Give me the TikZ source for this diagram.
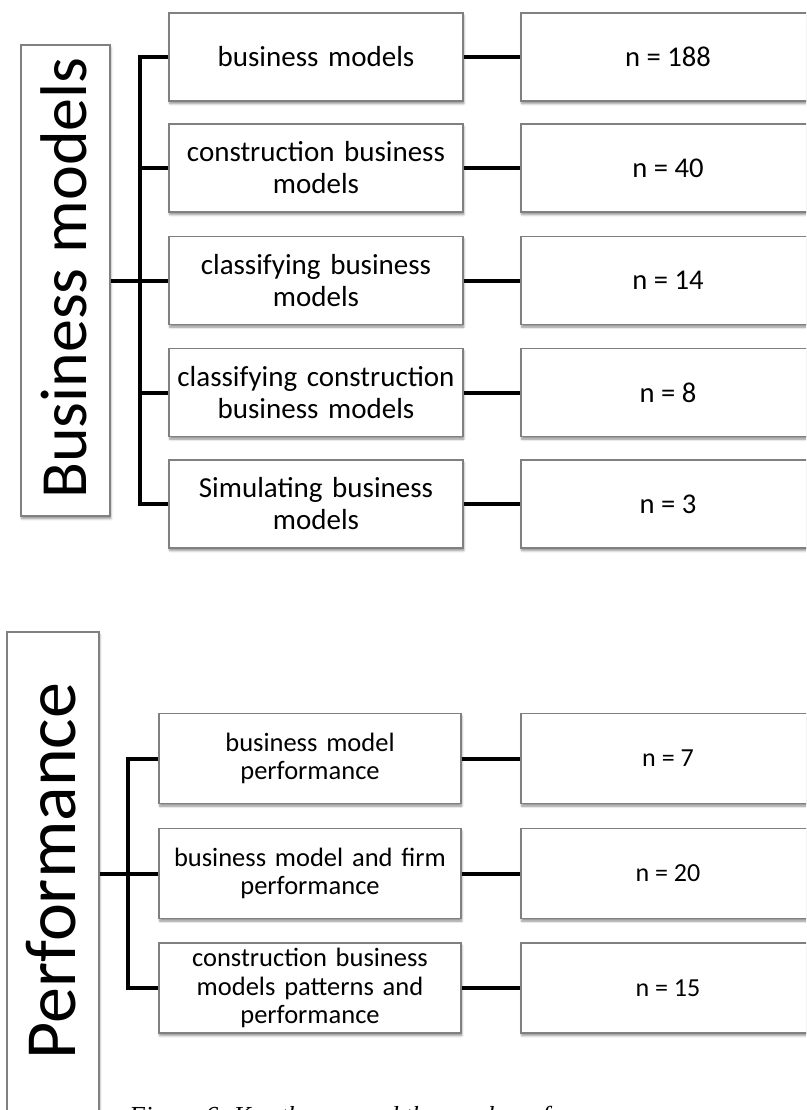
\documentclass[tikz,border=0pt]{standalone}
\usepackage{fontspec}
\setmainfont{Carlito}
\newfontfamily\capfont{Liberation Serif}
\usetikzlibrary{shadows,shadows.blur}

\tikzset{
  box/.style={draw=black!50, line width=1.1pt, fill=white, inner sep=2pt,
    blur shadow={shadow xshift=0.8pt, shadow yshift=-2.6pt, shadow blur radius=2.2pt,
      shadow blur steps=6, shadow opacity=45}},
  topic/.style={box, minimum width=294pt, minimum height=88pt, align=center,
    text width=286pt, font=\fontsize{29}{32}\selectfont},
  ptopic/.style={box, minimum width=302pt, minimum height=90pt, align=center,
    text width=294pt, font=\fontsize{26.5}{28.5}\selectfont},
  count/.style={box, minimum width=294pt, minimum height=88pt,
    font=\fontsize{28.6}{32}\selectfont},
  pcount/.style={box, minimum width=294pt, minimum height=90pt,
    font=\fontsize{26}{28.5}\selectfont},
  labelbox/.style={box},
  bigtext/.style={rotate=90, anchor=base, inner sep=0pt},
  conn/.style={line width=4pt, black, line join=miter},
  captext/.style={anchor=base west, inner sep=0pt,
    font=\capfont\itshape\fontsize{26}{30}\selectfont},
}

\begin{document}
\begin{tikzpicture}[x=1pt, y=-1pt]
  \useasboundingbox (0,0) rectangle (806,1110);
  \clip (0,0) rectangle (806,1110);

  % ---------- Business models ----------
  \node[labelbox, minimum width=89pt, minimum height=471pt] (bm) at (65.5,280.5) {};
  \node[bigtext, font=\fontsize{66}{70}\selectfont] (bmtext) at (86,278) {Business models};

  \node[topic] (m1) at (316,57)    {business models};
  \node[topic] (m2) at (316,168)   {construction business\\models};
  \node[topic] (m3) at (316,280.5) {classifying business\\models};
  \node[topic] (m4) at (316,392.5) {classifying construction\\business models};
  \node[topic] (m5) at (316,504)   {Simulating business\\models};

  \node[count] (c1) at (668,57)    {n = 188};
  \node[count] (c2) at (668,168)   {n = 40};
  \node[count] (c3) at (668,280.5) {n = 14};
  \node[count] (c4) at (668,392.5) {n = 8};
  \node[count] (c5) at (668,504)   {n = 3};

  \coordinate (bus) at (140,0);
  \draw[conn] (bm.east) -- (bm.east -| bus);
  \draw[conn] (m1.west) -- (m1.west -| bus) -- (m5.west -| bus) -- (m5.west);
  \foreach \i in {2,3,4} {
    \draw[conn] (m\i.west -| bus) -- (m\i.west);
  }
  \foreach \i in {1,...,5} {
    \draw[conn] (m\i.east) -- (c\i.west);
  }

  % ---------- Performance ----------
  \node[labelbox, minimum width=92pt, minimum height=500pt] (pf) at (53,882) {};
  \node[bigtext, font=\fontsize{72}{76}\selectfont] (pftext) at (75,871) {Performance};

  \node[ptopic] (p1) at (310,758.5) {business model\\performance};
  \node[ptopic] (p2) at (310,873.5) {business model and firm\\performance};
  \node[ptopic] (p3) at (310,988)   {construction business\\models patterns and\\performance};

  \node[pcount] (q1) at (668,758.5) {n = 7};
  \node[pcount] (q2) at (668,873.5) {n = 20};
  \node[pcount] (q3) at (668,988)   {n = 15};

  \coordinate (pbus) at (128,0);
  \draw[conn] (pf.east |- p2.west) -- (p2.west -| pbus);
  \draw[conn] (p1.west) -- (p1.west -| pbus) -- (p3.west -| pbus) -- (p3.west);
  \draw[conn] (p2.west -| pbus) -- (p2.west);
  \foreach \i in {1,2,3} {
    \draw[conn] (p\i.east) -- (q\i.west);
  }

  % ---------- caption (runs off the lower edge) ----------
  \node[captext] (cap) at (129,1124) {Figure 6. Key themes and the number of};
\end{tikzpicture}
\end{document}
